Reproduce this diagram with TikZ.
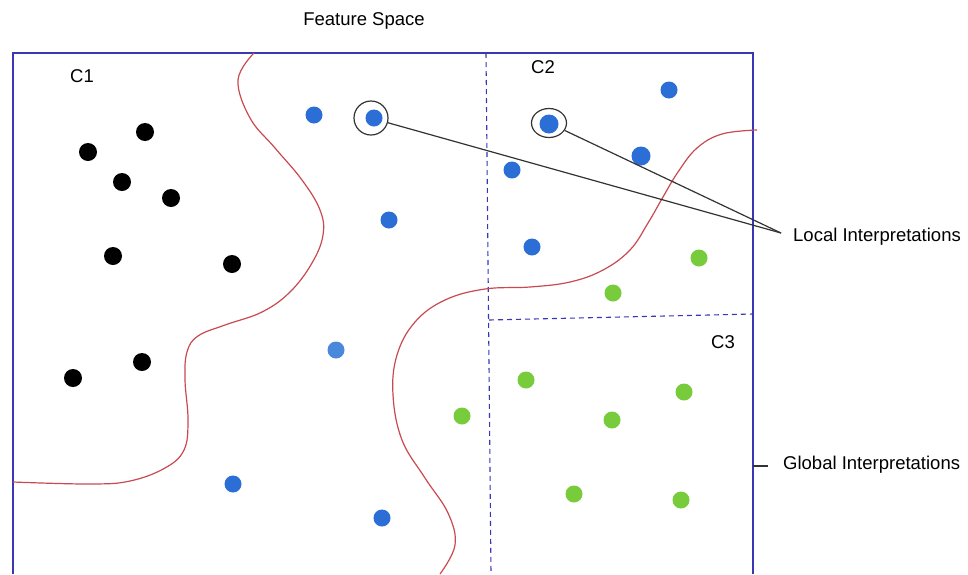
\documentclass[tikz,border=0pt]{standalone}
\usepackage{fontspec}
\setmainfont{Liberation Sans}
\usetikzlibrary{shapes.geometric}
\definecolor{framec}{HTML}{3A36B4}
\definecolor{bluec}{HTML}{2B6ED6}
\definecolor{lightbluec}{HTML}{4A88DC}
\definecolor{greenc}{HTML}{78CC3C}
\definecolor{redc}{HTML}{C84A50}
\definecolor{linec}{HTML}{333333}
\tikzset{
  frameline/.style={draw=framec, line width=1.2pt},
  splitline/.style={draw=framec, line width=1.1pt, dash pattern=on 5pt off 4pt},
  boundary/.style={draw=redc, line width=1.2pt},
  dotbase/.style={circle, inner sep=0pt, minimum size=17pt},
  blackdot/.style={dotbase, fill=black, minimum size=18pt},
  bluedot/.style={dotbase, fill=bluec},
  lightbluedot/.style={dotbase, fill=lightbluec},
  greendot/.style={dotbase, fill=greenc},
  ring/.style={circle, draw=linec, line width=1.2pt, inner sep=0pt, minimum size=34pt},
  oval/.style={ellipse, draw=linec, line width=1.2pt, inner sep=0pt, minimum width=35pt, minimum height=29pt},
  pointer/.style={draw=linec, line width=1.2pt},
  lbl/.style={font=\fontsize{18.5}{22}\selectfont, inner sep=0pt}
}
\begin{document}
\begin{tikzpicture}[x=1pt,y=-1pt]
\useasboundingbox (0,0) rectangle (968,574);
\fill[white] (0,0) rectangle (968,574);

% feature space frame (open at the bottom)
\draw[frameline] (13,574) -- (13,53) -- (753,53) -- (753,574);
% region splits
\draw[splitline] (486,53) -- (491,574);
\draw[splitline] (489,320) -- (753,314);

% decision boundaries
\draw[boundary] plot[smooth, tension=0.65] coordinates {
  (254,53) (238,80) (250,118) (275,148) (302,180) (320,210) (323,235)
  (312,263) (290,292) (262,312) (225,325) (198,336) (187,352) (185,380)
  (188,420) (184,450) (165,468) (130,481) (90,484) (13,482)};
\draw[boundary] plot[smooth, tension=0.65] coordinates {
  (440,574) (455,545) (448,513) (425,478) (402,440) (393,395) (397,355)
  (415,322) (445,300) (485,289) (530,287) (570,282) (603,270) (630,250)
  (648,223) (663,197) (678,172) (697,148) (722,134) (757,130)};

% labels
\node[lbl] (title) at (364,21) {Feature Space};
\node[lbl] (c1) at (82,76) {C1};
\node[lbl] (c2) at (543,67) {C2};
\node[lbl] (c3) at (723,342) {C3};

% class C1 samples
\node[blackdot] (k1) at (145,132) {};
\node[blackdot] (k2) at (88,152) {};
\node[blackdot] (k3) at (122,182) {};
\node[blackdot] (k4) at (171,198) {};
\node[blackdot] (k5) at (113,256) {};
\node[blackdot] (k6) at (232,264) {};
\node[blackdot] (k7) at (142,362) {};
\node[blackdot] (k8) at (73,378) {};

% class C2 samples
\node[bluedot] (b1) at (314,115) {};
\node[bluedot] (b2) at (374,118) {};
\node[bluedot] (b3) at (389,220) {};
\node[lightbluedot] (b4) at (336,350) {};
\node[bluedot] (b5) at (233,484) {};
\node[bluedot] (b6) at (382,518) {};
\node[bluedot] (b7) at (669,90) {};
\node[bluedot, minimum width=18pt, minimum height=19pt] (b8) at (549,124) {};
\node[bluedot, minimum width=18pt, minimum height=19pt] (b9) at (641,156) {};
\node[bluedot] (b10) at (512,170) {};
\node[bluedot] (b11) at (532,247) {};

% class C3 samples
\node[greendot] (g1) at (699,258) {};
\node[greendot] (g2) at (613,293) {};
\node[greendot] (g3) at (462,416) {};
\node[greendot] (g4) at (526,380) {};
\node[greendot] (g5) at (684,392) {};
\node[greendot] (g6) at (612,420) {};
\node[greendot] (g7) at (574,494) {};
\node[greendot] (g8) at (681,500) {};

% highlighted samples for local interpretations
\node[ring] (r1) at (371,118) {};
\node[oval] (r2) at (549,123) {};

\coordinate (lp) at (781,233);
\node[lbl, anchor=west] (local) at (793,237) {Local Interpretations};
\draw[pointer] (r1) -- (lp);
\draw[pointer] (r2) -- (lp);

% global interpretation tick
\coordinate (gt) at (753,466);
\coordinate (gtend) at (768,466);
\node[lbl, anchor=west] (global) at (783,465) {Global Interpretations};
\draw[pointer] (gt) -- (gtend);
\end{tikzpicture}
\end{document}
